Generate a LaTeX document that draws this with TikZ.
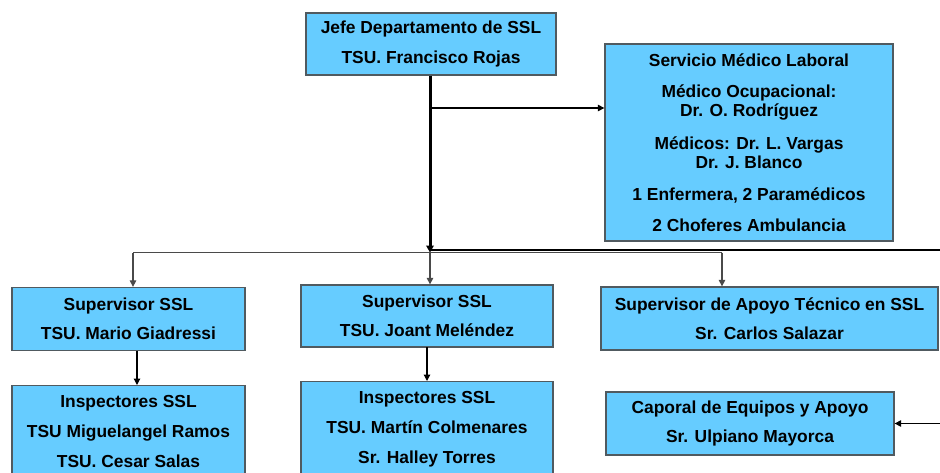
\documentclass[tikz,border=0pt]{standalone}
\usepackage{fontspec}
\setmainfont{Liberation Sans}
\usetikzlibrary{arrows.meta}
\definecolor{boxfill}{HTML}{66CCFF}
\definecolor{boxline}{HTML}{505A60}
\definecolor{conn}{HTML}{4A4A4A}
\begin{document}
\begin{tikzpicture}[x=1pt,y=-1pt,
  orgbox/.style={draw=boxline,line width=1.3pt,fill=boxfill,inner sep=0pt,align=center,
    font=\fontsize{17.4}{29.5}\selectfont\bfseries},
  orgtext/.style={inner sep=0pt,align=center,anchor=north,
    font=\fontsize{17.4}{30}\selectfont\bfseries},
  garrow/.style={draw=conn,line width=1.2pt,-{Triangle[length=6.5pt,width=6.5pt]}},
  barrow/.style={draw=black,line width=1.2pt,-{Triangle[length=6.5pt,width=6.5pt]}}
]
\useasboundingbox (0,0) rectangle (940,472);
% boxes
\node[orgbox,minimum width=250pt,minimum height=62pt] (jefe) at (431,44)
  {Jefe Departamento de SSL\\TSU. Francisco Rojas};
\node[orgbox,minimum width=288pt,minimum height=197pt,
  font=\fontsize{17.4}{19}\selectfont\bfseries] (med) at (749,142.5)
  {Servicio Médico Laboral\\[12pt]Médico Ocupacional:\\Dr. O. Rodríguez\\[14pt]Médicos: Dr. L. Vargas\\Dr. J. Blanco\\[13pt]1 Enfermera, 2 Paramédicos\\[12pt]2 Choferes Ambulancia};
\node[orgbox,minimum width=233pt,minimum height=63pt] (sup1) at (128.5,319)
  {Supervisor SSL\\TSU. Mario Giadressi};
\node[orgbox,minimum width=252pt,minimum height=62pt] (sup2) at (427,316)
  {Supervisor SSL\\TSU. Joant Meléndez};
\node[orgbox,minimum width=337pt,minimum height=63pt] (sup3) at (769.5,318.5)
  {Supervisor de Apoyo Técnico en SSL\\Sr. Carlos Salazar};
\node[orgbox,minimum width=233pt,minimum height=110pt,anchor=north] (insp1) at (128.5,385) {};
\node[orgtext] (insp1t) at (128.5,395)
  {Inspectores SSL\\TSU Miguelangel Ramos\\TSU. Cesar Salas};
\node[orgbox,minimum width=252pt,minimum height=110pt,anchor=north] (insp2) at (427,381) {};
\node[orgtext] (insp2t) at (427,391.5)
  {Inspectores SSL\\TSU. Martín Colmenares\\Sr. Halley Torres};
\node[orgbox,minimum width=288pt,minimum height=63pt] (cap) at (750,423.5)
  {Caporal de Equipos y Apoyo\\Sr. Ulpiano Mayorca};
% coordinates
\coordinate (bus) at (430,252.5);
\coordinate (busL) at (133,252.5);
\coordinate (busR) at (722,252.5);
\coordinate (split) at (430,108);
% connectors
\draw[draw=black,line width=3pt,-{Triangle[length=7pt,width=7.5pt]}] (jefe.south -| bus) -- (bus);
\draw[draw=conn,line width=1.2pt] (busL) -- (busR);
\draw[garrow] (busL) -- (busL |- sup1.north);
\draw[garrow] (bus) -- (bus |- sup2.north);
\draw[garrow] (busR) -- (busR |- sup3.north);
\draw[barrow] (split) -- (med.west |- split);
\draw[barrow] (137,350.5) -- (137,385);
\draw[barrow] (427,347) -- (427,381);
\draw[draw=black,line width=1.2pt] (431,250) -- (950,250) -- (950,423.5);
\draw[barrow] (950,423.5) -- (cap.east);
\end{tikzpicture}
\end{document}
